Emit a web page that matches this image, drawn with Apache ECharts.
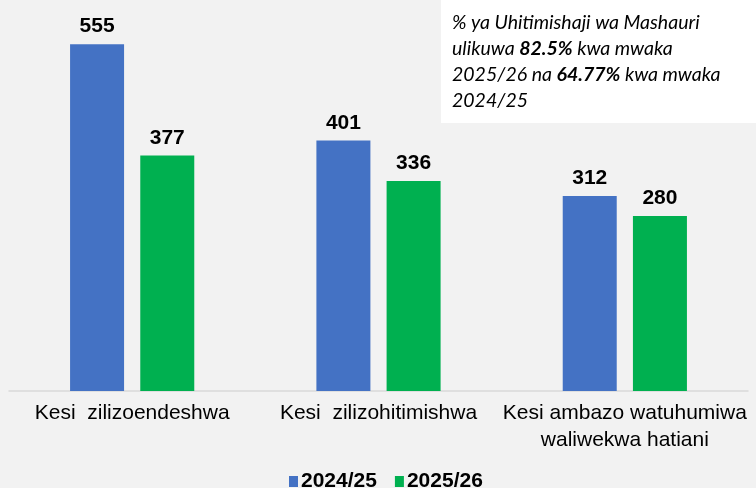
<!DOCTYPE html>
<html>
<head>
<meta charset="utf-8">
<script src="https://cdn.jsdelivr.net/npm/echarts@6/dist/echarts.min.js"></script>
<style>
  html, body { margin: 0; padding: 0; background: #f2f2f2; }
  #echart { width: 756px; height: 488px; }
</style>
</head>
<body>
<div id="echart"></div>
<script>
// data
var categories = ['Kesi  zilizoendeshwa', 'Kesi  zilizohitimishwa', 'Kesi ambazo watuhumiwa\nwaliwekwa hatiani'];
var seriesNames = ['2024/25', '2025/26'];
var values2024 = [555, 401, 312];
var values2025 = [377, 336, 280];
var colors = ['#4472c4', '#00b050'];

var dom = document.getElementById("echart");
var myChart = echarts.init(dom);

var labelStyle = {
    show: true,
    position: 'top',
    distance: 7,
    color: '#000',
    fontSize: 21,
    fontWeight: 'bold',
    fontFamily: 'Liberation Sans, Arial'
};

option = {
    backgroundColor: '#f2f2f2',
    animation: false,
    grid: { left: 9, right: 8, top: 16, bottom: 97 },
    legend: {
        data: seriesNames,
        top: 466,
        left: 284,
        itemWidth: 9,
        itemHeight: 11,
        itemGap: 18,
        icon: 'rect',
        textStyle: { color: '#000', fontSize: 21, fontWeight: 'bold', fontFamily: 'Liberation Sans, Arial', padding: [0, 0, 0, -2] }
    },
    xAxis: {
        type: 'category',
        data: categories,
        axisLine: { lineStyle: { color: '#d9d9d9', width: 1.5 } },
        axisTick: { show: false },
        axisLabel: {
            color: '#000',
            fontSize: 21,
            fontFamily: 'Liberation Sans, Arial',
            lineHeight: 27,
            margin: 9,
            interval: 0
        }
    },
    yAxis: {
        type: 'value',
        min: 0,
        max: 600,
        show: false,
        splitLine: { show: false }
    },
    series: [
        {
            name: seriesNames[0],
            type: 'bar',
            data: values2024,
            barWidth: 54,
            barGap: '30%',
            itemStyle: { color: colors[0] },
            label: labelStyle
        },
        {
            name: seriesNames[1],
            type: 'bar',
            data: values2025,
            barWidth: 54,
            barGap: '30%',
            itemStyle: { color: colors[1] },
            label: labelStyle
        }
    ],
    graphic: [
        {
            type: 'rect',
            left: 441,
            top: 0,
            shape: { width: 315, height: 123 },
            style: { fill: '#ffffff' }
        },
        {
            type: 'text',
            left: 452,
            top: 13,
            style: {
                text: '{n|% ya Uhitimishaji wa Mashauri}\n{n|ulikuwa }{b|82.5%}{n| kwa mwaka}\n{n|2025/26 na }{b|64.77%}{n| kwa mwaka}\n{n|2024/25}',
                rich: {
                    n: { fontSize: 19.5, fontStyle: 'italic', fontFamily: 'Lato, Open Sans', color: '#262626', lineHeight: 26 },
                    b: { fontSize: 19.5, fontStyle: 'italic', fontWeight: 'bold', fontFamily: 'Lato, Open Sans', color: '#000', lineHeight: 26 }
                }
            }
        }
    ]
};

myChart.setOption(option);
</script>
</body>
</html>
